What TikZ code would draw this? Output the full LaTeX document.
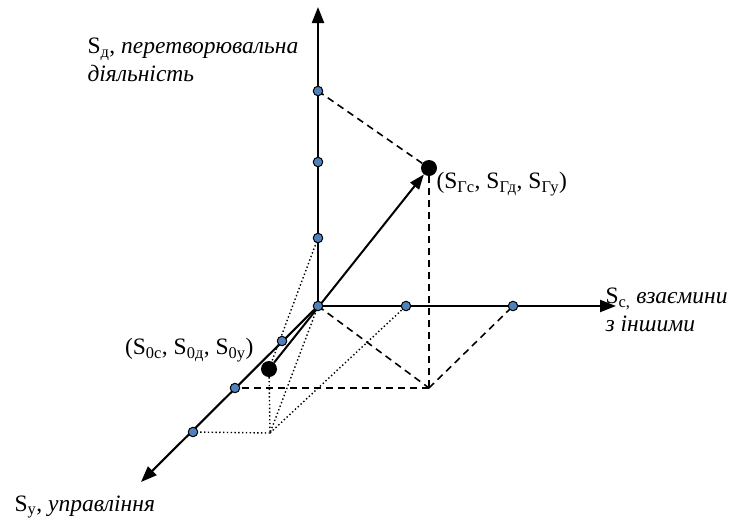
\documentclass[tikz,border=0pt]{standalone}
\usepackage{fontspec}
\setmainfont{Liberation Serif}
\usetikzlibrary{arrows.meta, positioning, calc}
\definecolor{dotblue}{RGB}{79,129,189}

\begin{document}
\begin{tikzpicture}[x=1pt, y=-1pt, font=\fontsize{23.5}{28}\selectfont,
        axis/.style={line width=2.1pt, -{Triangle[length=16pt, width=12pt]}},
        tick/.style={circle, draw=black, fill=dotblue, line width=1pt, inner sep=0pt, minimum size=9.5pt},
        bigdot/.style={circle, fill=black, inner sep=0pt, minimum size=16pt},
        projr/.style={line width=1.6pt, dash pattern=on 7pt off 5pt},
        proj0/.style={line width=1.4pt, dash pattern=on 1.4pt off 2.4pt}]

      \useasboundingbox (0,0) rectangle (750,520);

      % 1. Points of the frame
      \coordinate (O) at (318,306);
      \coordinate (tipD) at (318,7);
      \coordinate (tipC) at (616,306);
      \coordinate (tipY) at (141,482);
      \coordinate (d1) at (318,238);
      \coordinate (d2) at (318,162);
      \coordinate (d3) at (318,91);
      \coordinate (c1) at (406,306);
      \coordinate (c2) at (513,306);
      \coordinate (y1) at (282,341);
      \coordinate (y2) at (235,388);
      \coordinate (y3) at (193,432);
      \coordinate (baseR) at (429,388);
      \coordinate (base0) at (270,433);

      % 2. Axes
      \draw [axis] (O) -- (tipD);
      \draw [axis] (O) -- (tipC);
      \draw [axis] (O) -- (tipY);

      % 3. The two states
      \node [bigdot] (s0) at (269,369) {};
      \node [bigdot] (sr) at (429,168) {};

      % 4. Projections
      \draw [projr] (sr) -- (d3);
      \draw [projr] (sr) -- (baseR);
      \draw [projr] (O) -- (baseR);
      \draw [projr] (baseR) -- (y2);
      \draw [projr] (baseR) -- (c2);

      \draw [proj0] (d1) -- (s0);
      \draw [proj0] (s0) -- (base0);
      \draw [proj0] (O) -- (base0);
      \draw [proj0] (base0) -- (y3);
      \draw [proj0] (base0) -- (c1);

      % 5. Move from start to goal
      \draw [line width=2pt, -{Triangle[length=15pt, width=11pt]}] (s0) -- (sr);

      % 6. Scale marks
      \foreach \p in {O, d1, d2, d3, c1, c2, y1, y2, y3}
        \node [tick] at (\p) {};

      % 7. Labels
      \node [anchor=west, align=left] (labD) at (84,60) {S\textsubscript{д}, \textit{перетворювальна}\\\textit{діяльність}};
      \node [anchor=west, align=left] (labC) at (602,310) {S\textsubscript{с,} \textit{взаємини}\\\textit{з іншими}};
      \node [anchor=west] (labY) at (11,507) {S\textsubscript{у}, \textit{управління}};
      \node [anchor=west] (labR) at (433,184) {(S\textsubscript{Гс}, S\textsubscript{Гд}, S\textsubscript{Гу})};
      \node [anchor=east] (lab0) at (257,350) {(S\textsubscript{0с}, S\textsubscript{0д}, S\textsubscript{0у})};
    \end{tikzpicture}
\end{document}
